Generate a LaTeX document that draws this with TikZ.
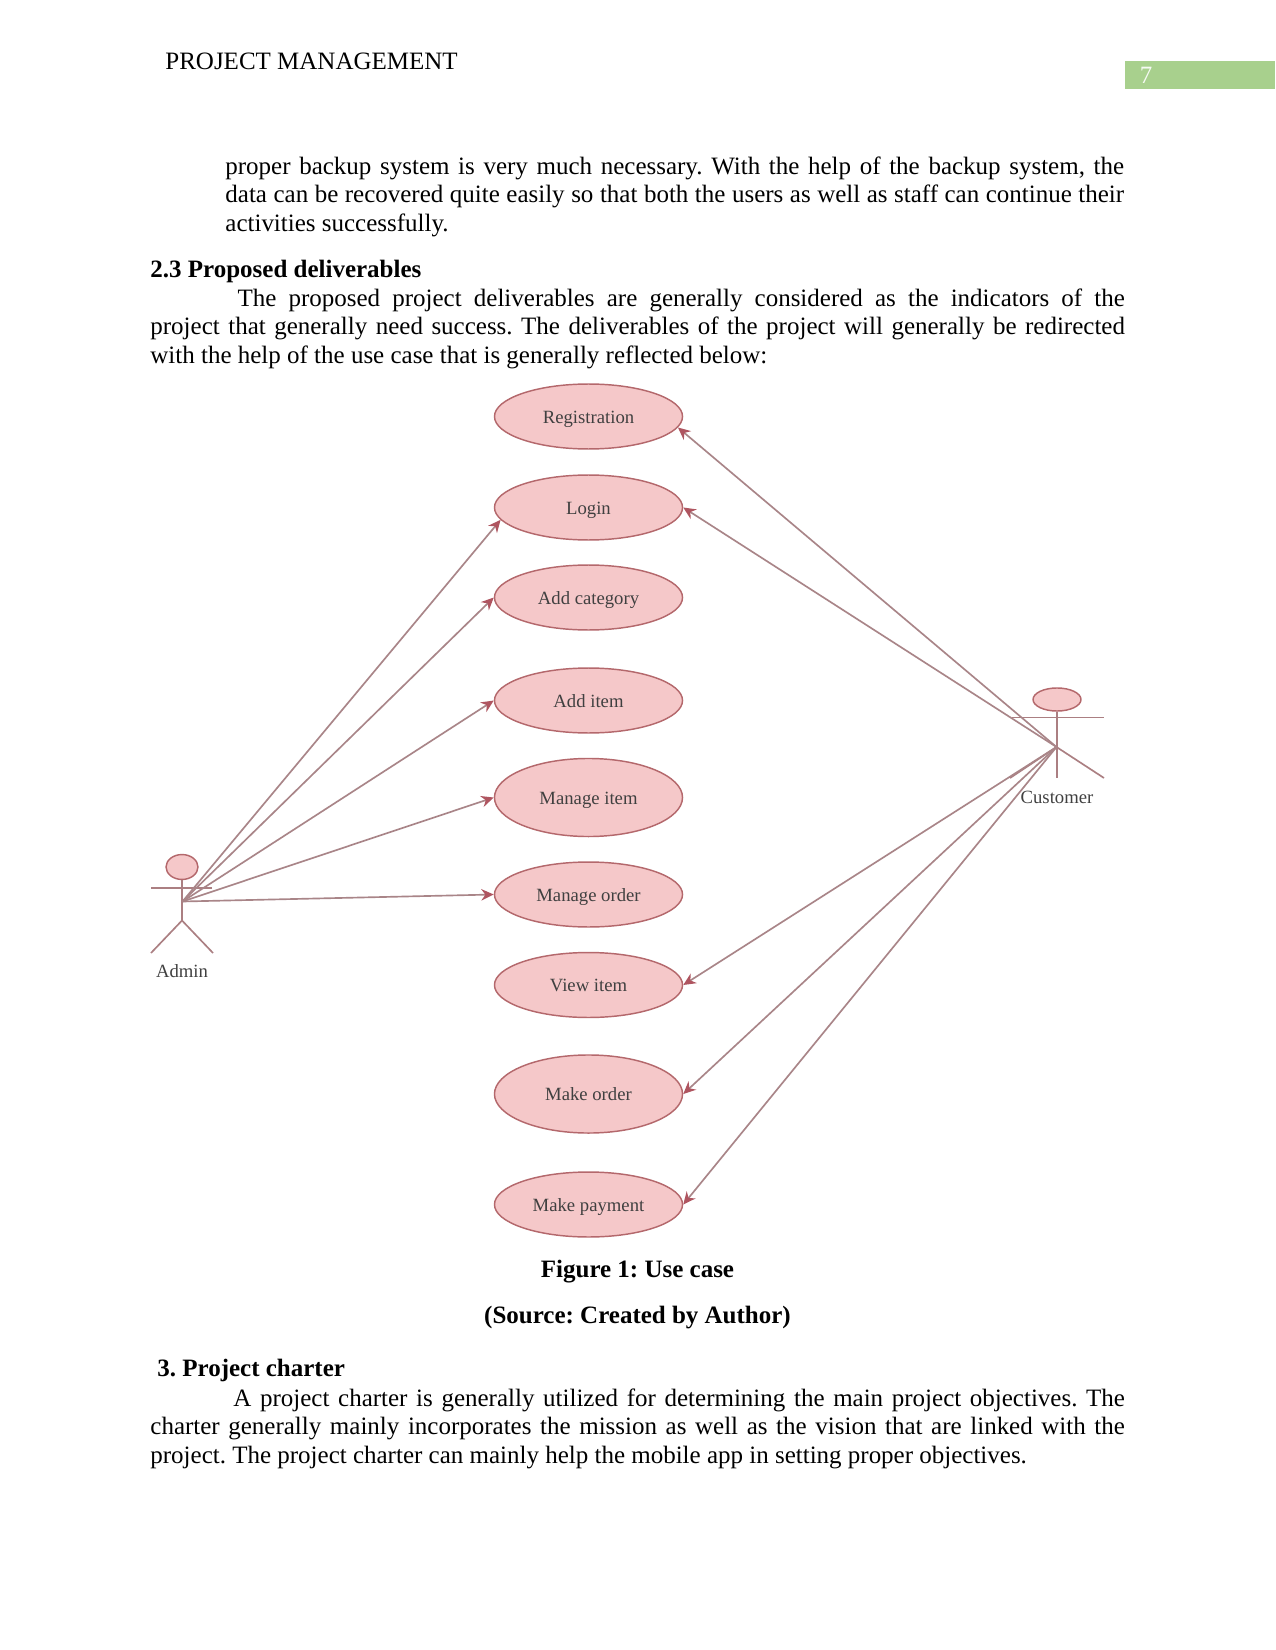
\documentclass[tikz,border=0pt]{standalone}
\usepackage{fontspec}
\setmainfont{Liberation Serif}
\usetikzlibrary{arrows.meta,shapes.geometric}
\definecolor{casefill}{HTML}{F5C8C9}
\definecolor{caseline}{HTML}{B4686C}
\definecolor{linkline}{HTML}{A98588}
\definecolor{tipred}{HTML}{AF5560}
\definecolor{pagebar}{HTML}{A8D08D}
\frenchspacing
\tikzset{
  usecase/.style={ellipse,draw=caseline,fill=casefill,line width=0.7pt,minimum width=90.6pt,inner sep=0pt,
    text height=7.5pt,text depth=1pt,font=\fontsize{9}{10}\selectfont,text=black!75},
  smallcase/.style={usecase,minimum height=31.3pt},
  tallcase/.style={usecase,minimum height=37.6pt},
  actorhead/.style={ellipse,draw=caseline,fill=casefill,line width=0.7pt,inner sep=0pt},
  actorline/.style={draw=linkline!80!caseline,line width=0.8pt},
  actorname/.style={font=\fontsize{9}{10}\selectfont,text=black!75},
  usearrow/.style={draw=linkline,line width=0.8pt,-{Stealth[length=6pt,width=5.5pt,color=tipred]}},
  para/.style={anchor=north west,inner sep=0pt,align=justify,font=\fontsize{12.04}{13.85}\selectfont},
  head/.style={anchor=west,inner sep=0pt,font=\fontsize{12.04}{13.85}\selectfont\bfseries},
  caption/.style={inner sep=0pt,font=\fontsize{12.04}{13.85}\selectfont\bfseries}
}
\begin{document}
\begin{tikzpicture}[x=0.4818pt,y=-0.4818pt]
  \useasboundingbox[fill=white] (0,0) rectangle (1275,1650);
  % page header
  \fill[pagebar] (1125,61) rectangle (1275,89);
  \node[inner sep=0pt,text=white!90!pagebar,font=\fontsize{12}{13.9}\selectfont] (pagenum) at (1146,75) {7};
  \node[anchor=west,inner sep=0pt,font=\fontsize{12.04}{13.85}\selectfont] (header) at (165,61) {PROJECT MANAGEMENT};
  % text above the figure
  \node[para,text width=433pt] (backup) at (225,156) {proper backup system is very much necessary. With the help of the backup system, the data can be recovered quite easily so that both the users as well as staff can continue their activities successfully.};
  \node[head] (deliverables) at (150,271) {2.3 Proposed deliverables};
  \node[para,text width=469.5pt] (intro) at (150,288) {\hspace*{42pt}The proposed project deliverables are generally considered as the indicators of the\linebreak project that generally need success. The deliverables of the project will generally be redirected\linebreak with the help of the use case that is generally reflected below:};
  % use cases
  \node[smallcase] (registration) at (588.5,416.5) {Registration};
  \node[smallcase] (login) at (588.5,507.5) {Login};
  \node[smallcase] (category) at (588.5,597.5) {Add category};
  \node[smallcase] (additem) at (588.5,700.5) {Add item};
  \node[tallcase] (manageitem) at (588.5,797.5) {Manage item};
  \node[smallcase] (manageorder) at (588.5,894.5) {Manage order};
  \node[smallcase] (viewitem) at (588.5,985) {View item};
  \node[tallcase] (makeorder) at (588.5,1094) {Make order};
  \node[smallcase] (payment) at (588.5,1204.5) {Make payment};
  % admin
  \node[actorhead,minimum width=15.4pt,minimum height=12pt] (adminhead) at (182,867) {};
  \coordinate (adminhub) at (182.5,901.5);
  \draw[actorline] (adminhead) -- (182,920.5) -- (151,953);
  \draw[actorline] (182,920.5) -- (213,953);
  \draw[actorline] (151,888) -- (212,888);
  \node[actorname] (admin) at (182,971) {Admin};
  % customer
  \node[actorhead,minimum width=23.1pt,minimum height=11.1pt] (customerhead) at (1057,699.5) {};
  \coordinate (customerhub) at (1056.5,747);
  \draw[actorline] (customerhead) -- (1057,778);
  \draw[actorline] (1012,717.5) -- (1104,717.5);
  \draw[actorline] (1010,778) -- (1056.5,747) -- (1104,778);
  \node[actorname] (customer) at (1057,797) {Customer};
  % arrows
  \draw[usearrow] (adminhub) -- (login.188);
  \draw[usearrow] (adminhub) -- (category.west);
  \draw[usearrow] (adminhub) -- (additem.west);
  \draw[usearrow] (adminhub) -- (manageitem.west);
  \draw[usearrow] (adminhub) -- (manageorder.west);
  \draw[usearrow] (customerhub) -- (registration.-7);
  \draw[usearrow] (customerhub) -- (login.east);
  \draw[usearrow] (customerhub) -- (viewitem.east);
  \draw[usearrow] (customerhub) -- (makeorder.east);
  \draw[usearrow] (customerhub) -- (payment.east);
  % text below the figure
  \node[caption] (figcaption) at (637.5,1272) {Figure 1: Use case};
  \node[caption] (figsource) at (637.5,1318) {(Source: Created by Author)};
  \node[head] (charter) at (157,1370) {3. Project charter};
  \node[para,text width=469.5pt] (charterpara) at (150,1388) {\hspace*{40pt}A project charter is generally utilized for determining the main project objectives. The charter generally mainly incorporates the mission as well as the vision that are linked with the project. The project charter can mainly help the mobile app in setting proper objectives.};
\end{tikzpicture}
\end{document}
